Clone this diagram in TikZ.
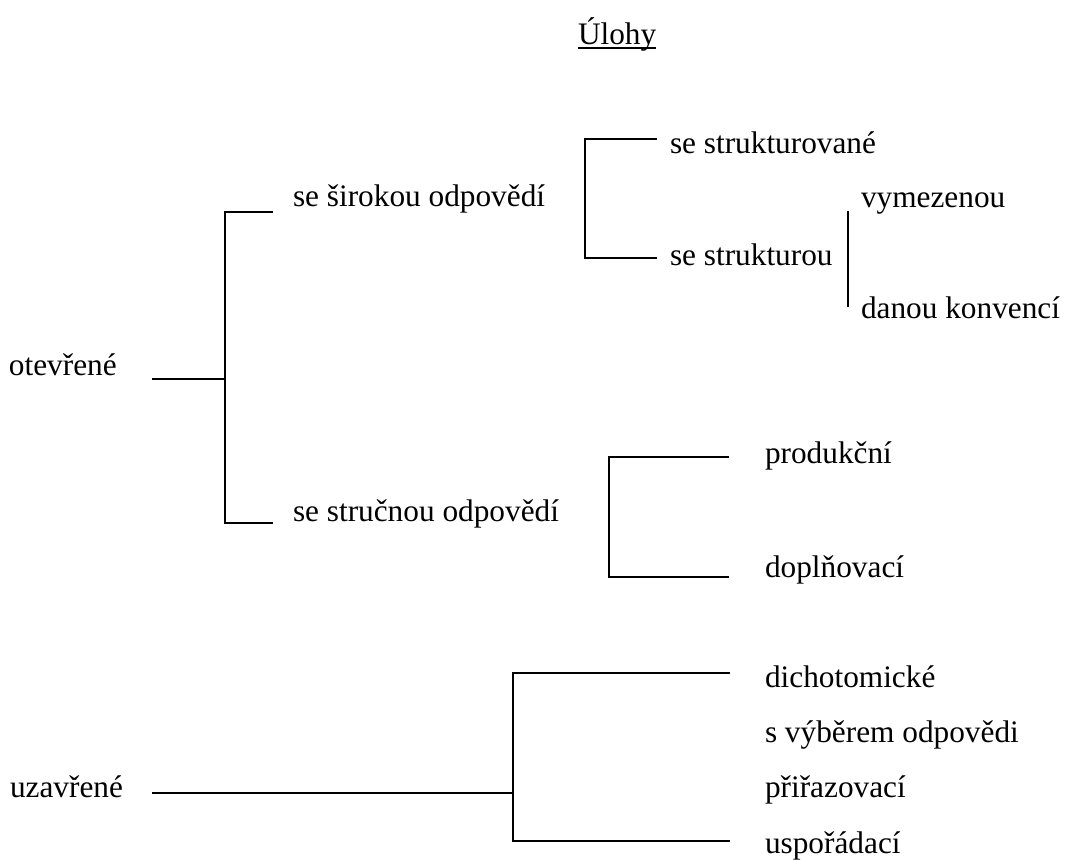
\documentclass[tikz,border=0pt]{standalone}
\usepackage{fontspec}
\setmainfont{Liberation Serif}
\begin{document}
\begin{tikzpicture}[x=1pt,y=-1pt,
  lbl/.style={anchor=base west, inner sep=0pt, outer sep=0pt, font=\fontsize{31.3}{37}\selectfont},
  conn/.style={line width=2pt, line join=miter}]
\useasboundingbox (0,0) rectangle (1065,859);
% texts
\node[lbl] (title) at (578,45) {Úlohy};
\node[lbl] (otev) at (9,375) {otevřené};
\node[lbl] (sirok) at (293,206) {se širokou odpovědí};
\node[lbl] (struc) at (293,521) {se stručnou odpovědí};
\node[lbl] (sstrv) at (670,153) {se strukturované};
\node[lbl] (sstru) at (670,265) {se strukturou};
\node[lbl] (vymez) at (861,207) {vymezenou};
\node[lbl] (danou) at (861,318) {danou konvencí};
\node[lbl] (produk) at (765,463) {produkční};
\node[lbl] (dopln) at (765,577) {doplňovací};
\node[lbl] (uzav) at (10,797) {uzavřené};
\node[lbl] (dicho) at (765,687) {dichotomické};
\node[lbl] (vyber) at (765,742) {s výběrem odpovědi};
\node[lbl] (prir) at (765,797) {přiřazovací};
\node[lbl] (uspor) at (765,853) {uspořádací};
% title underline
\draw[line width=1.5pt] ([yshift=-3pt]title.base west) -- ([yshift=-3pt]title.base east);
% otevřené bracket
\coordinate (a0) at (152,379);
\coordinate (a1) at (225,379);
\coordinate (a2) at (225,211.5);
\coordinate (a3) at (273,211.5);
\coordinate (a4) at (225,522.5);
\coordinate (a5) at (273,522.5);
\draw[conn] (a0) -- (a1);
\draw[conn] (a3) -- (a2) -- (a4) -- (a5);
% široká odpověď bracket
\coordinate (b1) at (657,139);
\coordinate (b2) at (585,139);
\coordinate (b3) at (585,258);
\coordinate (b4) at (657,258);
\draw[conn] (b1) -- (b2) -- (b3) -- (b4);
% se strukturou line
\coordinate (c1) at (848,211);
\coordinate (c2) at (848,307);
\draw[conn] (c1) -- (c2);
% stručná odpověď bracket
\coordinate (d1) at (729,457);
\coordinate (d2) at (609,457);
\coordinate (d3) at (609,577);
\coordinate (d4) at (729,577);
\draw[conn] (d1) -- (d2) -- (d3) -- (d4);
% uzavřené bracket
\coordinate (e0) at (152,792.5);
\coordinate (e1) at (513,792.5);
\coordinate (e2) at (730,673);
\coordinate (e3) at (513,673);
\coordinate (e4) at (513,841);
\coordinate (e5) at (730,841);
\draw[conn] (e0) -- (e1);
\draw[conn] (e2) -- (e3) -- (e4) -- (e5);
\end{tikzpicture}
\end{document}
